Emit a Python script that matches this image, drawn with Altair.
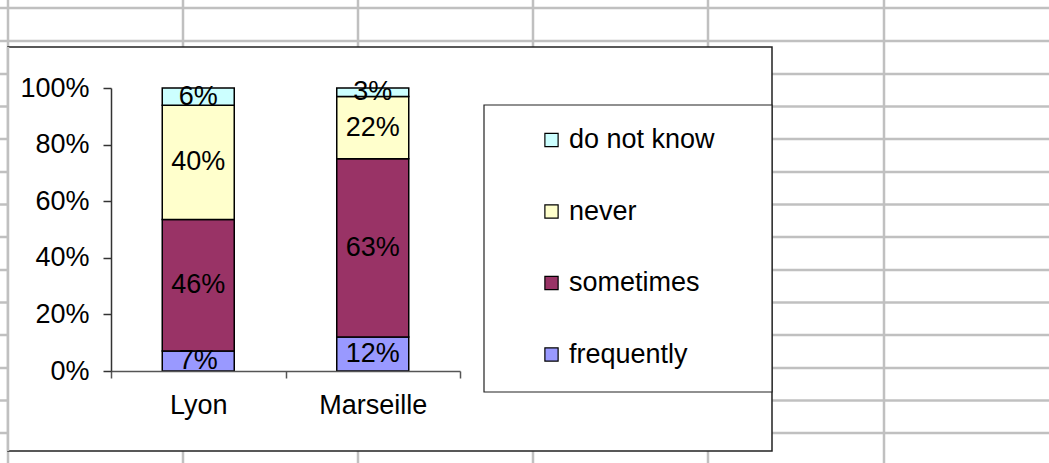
import altair as alt
import pandas as pd

# ---- data ----
cities = ["Lyon", "Lyon", "Lyon", "Lyon", "Marseille", "Marseille", "Marseille", "Marseille"]
answers = ["frequently", "sometimes", "never", "do not know"] * 2
values = [7, 46, 40, 6, 12, 63, 22, 3]
stack_rank = [0, 1, 2, 3] * 2

legend_order = ["do not know", "never", "sometimes", "frequently"]
legend_colors = ["#CCFFFF", "#FFFFCC", "#993366", "#9999FF"]
y_ticks = [0, 0.2, 0.4, 0.6, 0.8, 1.0]

df = pd.DataFrame({"city": cities, "answer": answers, "value": values, "rank": stack_rank})

# ---- layout (page in pixels) ----
W, H = 1049, 463
PL, PT = 111, 88          # plot origin on page
PW, PH = 349, 283         # plot size
FONT = "Liberation Sans"
FS = 27

def rx(X):
    return X - PL

def ry(Y):
    return Y - PT

one = alt.Data(values=[{}])

# spreadsheet grid (decoration)
grid_v = [8, 183, 358, 533, 708, 884]
grid_h = [8, 41, 74, 106.5, 139, 172, 204.5, 237, 270, 302.5, 335, 368, 400.5, 433]

layers = []
for gx in grid_v:
    layers.append(alt.Chart(one).mark_rule(color="#C0C0C0", strokeWidth=2.5).encode(
        x=alt.value(rx(gx)), y=alt.value(ry(0)), y2=alt.value(ry(H))))
for gy in grid_h:
    layers.append(alt.Chart(one).mark_rule(color="#C0C0C0", strokeWidth=2.5).encode(
        x=alt.value(rx(0)), x2=alt.value(rx(W)), y=alt.value(ry(gy))))

# chart area frame
layers.append(alt.Chart(one).mark_rect(fill="white", stroke="#222222", strokeWidth=1.5).encode(
    x=alt.value(rx(8)), x2=alt.value(rx(772)), y=alt.value(ry(47)), y2=alt.value(ry(451))))
layers.append(alt.Chart(one).mark_rule(color="#C0C0C0", strokeWidth=2.5).encode(
    x=alt.value(rx(8)), y=alt.value(ry(47)), y2=alt.value(ry(451))))
# legend frame
layers.append(alt.Chart(one).mark_rect(fill="white", stroke="#222222", strokeWidth=1.2).encode(
    x=alt.value(rx(484)), x2=alt.value(rx(772)), y=alt.value(ry(105)), y2=alt.value(ry(392))))

base = alt.Chart(df).transform_stack(
    stack="value", as_=["y0", "y1"], groupby=["city"],
    sort=[alt.SortField("rank", order="ascending")], offset="normalize"
).transform_calculate(
    mid="(datum.y0 + datum.y1) / 2",
    label="datum.value + '%'"
)

xenc = alt.X("city:N", title=None, sort=["Lyon", "Marseille"],
             scale=alt.Scale(paddingInner=0, paddingOuter=0),
             axis=alt.Axis(labelAngle=0, labelFontSize=FS, labelFont=FONT, labelColor="black",
                           tickBand="extent", tickSize=7, tickColor="#555555", tickWidth=1.5,
                           domainColor="#555555", domainWidth=1.5, labelPadding=14, zindex=1))

bars = base.mark_bar(stroke="black", strokeWidth=1.5, width=72).encode(
    x=xenc,
    y=alt.Y("y0:Q", title=None, scale=alt.Scale(domain=[0, 1], nice=False),
            axis=alt.Axis(values=y_ticks, format=".0%", labelFontSize=FS, labelFont=FONT,
                          labelColor="black", tickSize=8, tickColor="#333333", tickWidth=1.5,
                          domainColor="#333333", domainWidth=1.5, grid=False, labelPadding=14,
                          zindex=1)),
    y2="y1:Q",
    color=alt.Color("answer:N", scale=alt.Scale(domain=legend_order, range=legend_colors),
                    legend=alt.Legend(orient="none", legendX=rx(538), legendY=ry(126.5),
                                      title=None, symbolType="square", symbolSize=175,
                                      symbolStrokeColor="black", symbolStrokeWidth=1.2,
                                      labelFontSize=FS, labelFont=FONT, labelColor="black",
                                      rowPadding=43.5, labelOffset=4, symbolOpacity=1)),
)

texts = base.mark_text(fontSize=FS, font=FONT, color="black", baseline="middle").encode(
    x=alt.X("city:N", sort=["Lyon", "Marseille"]),
    y=alt.Y("mid:Q"),
    text="label:N",
)

layers += [bars, texts]

chart = alt.layer(*layers).properties(
    width=PW, height=PH,
    padding={"left": PL, "top": PT, "right": W - PL - PW, "bottom": H - PT - PH},
    autosize=alt.AutoSizeParams(type="none"),
    background="white",
).configure_view(stroke=None)

chart.save("out.html", embed_options={"renderer": "svg", "actions": False})
